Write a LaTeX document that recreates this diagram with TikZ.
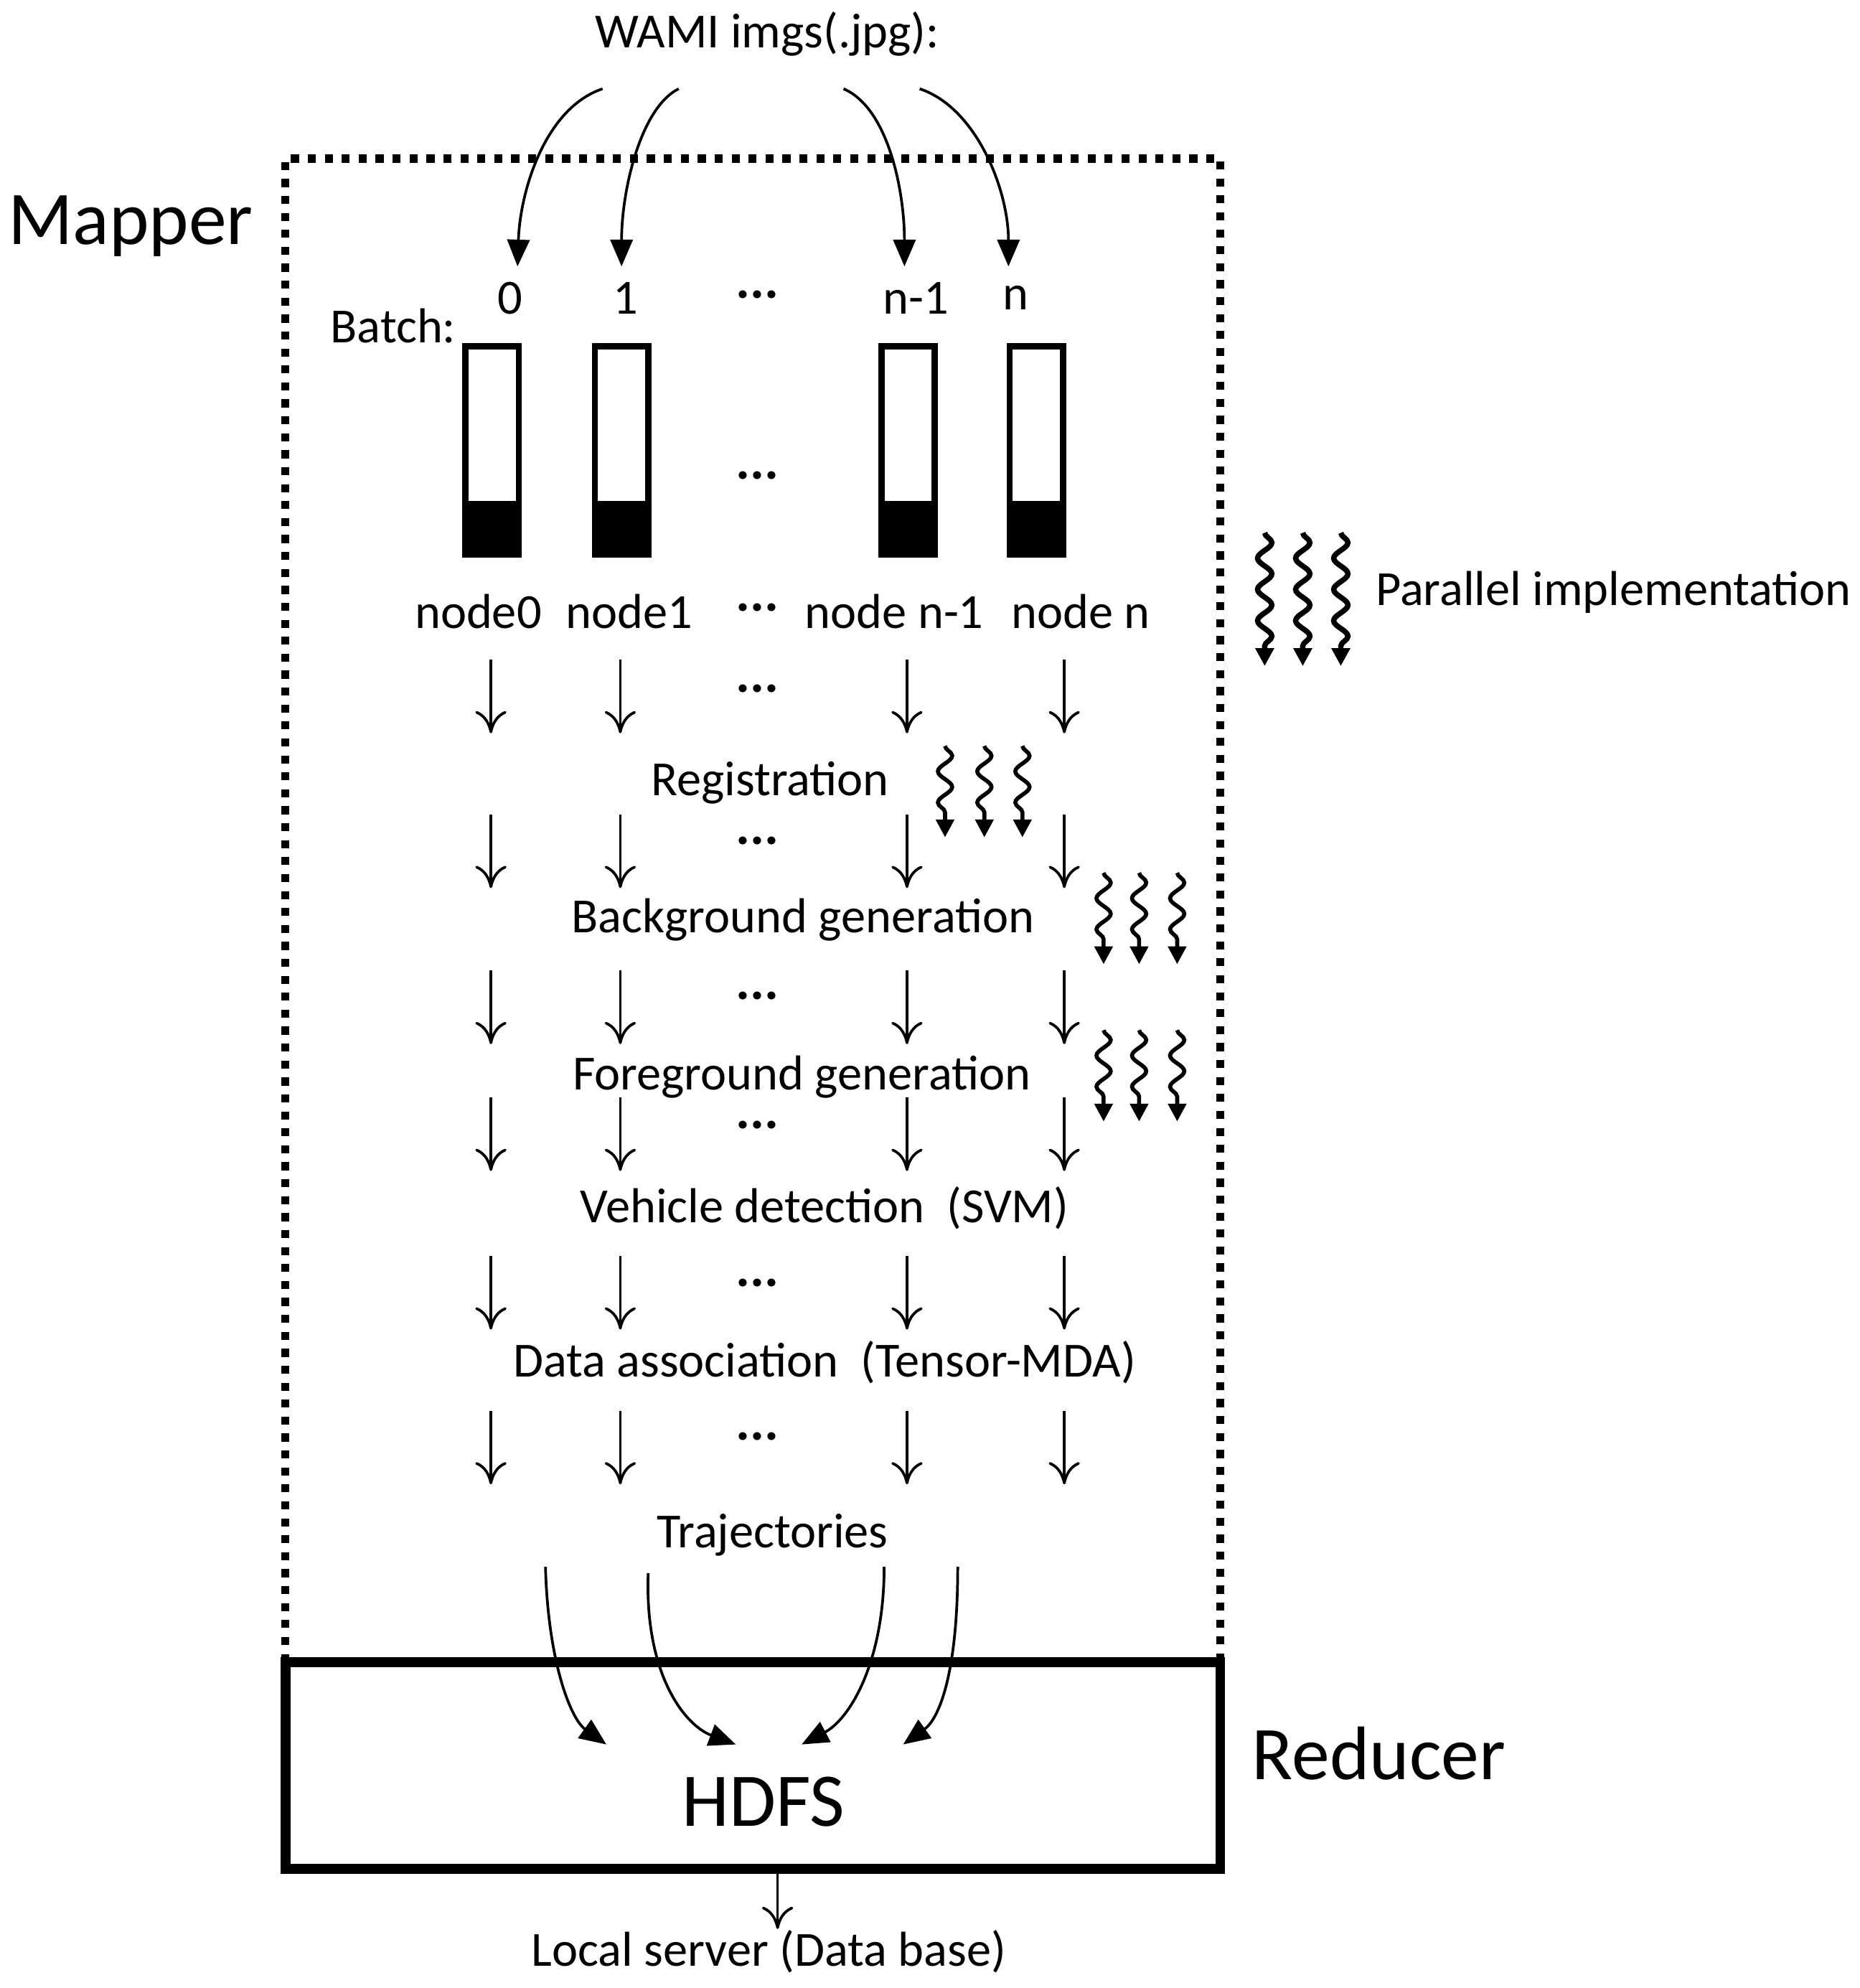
\documentclass[tikz,border=0pt]{standalone}
\usepackage{fontspec}
\setmainfont{Carlito}
\usetikzlibrary{decorations.pathmorphing,arrows.meta}
\begin{document}
\begin{tikzpicture}[x={(0.01cm,0)},y={(0,-0.01cm)},
  txt/.style={font=\fontsize{11pt}{13pt}\selectfont,inner sep=0},
  dots/.style={font=\fontsize{12pt}{13pt}\selectfont\bfseries,inner sep=0},
  big/.style={font=\fontsize{17pt}{20pt}\selectfont,inner sep=0},
  dn/.style={-{To[length=5pt,width=7pt]},line width=0.6pt},
  cur/.style={-{Triangle[length=6pt,width=5pt]},line width=0.6pt},
  sq/.style={line width=1.2pt,-{Triangle[length=4pt,width=4pt]},decorate,decoration={snake,amplitude=1.6pt,segment length=7pt,post length=4pt}}]
\useasboundingbox (0,0) rectangle (1466,1567);
\draw[line width=1.8pt,dotted] (225,1310) -- (225,125) -- (962,125) -- (962,1310);
\draw[line width=2.2pt] (225,1310) rectangle (962,1473);
\node[txt] (wami) at (605,27) {WAMI imgs(.jpg):};
\node[big] (mapper) at (103,178) {Mapper};
\node[big] (reducer) at (1087,1382) {Reducer};
\node[big] (hdfs) at (602,1420) {HDFS};
\node[txt] (local) at (606,1538) {Local server (Data base)};
\node[txt] (batch) at (310,257) {Batch:};
\foreach \x/\l/\n in {402/0/b0,493/1/b1,722/n-1/b2,801/n/b3}{\node[txt] (\n) at (\x,235) {\l};}
\node[dots] (bd) at (597,232) {...};
\foreach \x/\n in {388/c0,490/c1,716/c2,817/c3}{
  \fill (\x-22,395) rectangle (\x+22,438);
  \draw[line width=1.4pt] (\x-21,273) rectangle (\x+21,437);
  \coordinate (\n) at (\x,272);}
\node[dots] (cd) at (597,375) {...};
\coordinate (s0) at (475,70); \coordinate (s1) at (535,70);
\coordinate (s2) at (665,70); \coordinate (s3) at (725,70);
\coordinate (t0) at (408,210); \coordinate (t1) at (490,210);
\coordinate (t2) at (713,210); \coordinate (t3) at (795,210);
\draw[cur] (s0) .. controls (430,85) and (410,150) .. (t0);
\draw[cur] (s1) .. controls (505,85) and (490,150) .. (t1);
\draw[cur] (s2) .. controls (700,85) and (713,150) .. (t2);
\draw[cur] (s3) .. controls (770,85) and (795,150) .. (t3);
\node[txt] (n0) at (377,482) {node0};
\node[txt] (n1) at (496,482) {node1};
\node[dots] (nd) at (597,479) {...};
\node[txt] (n2) at (705,482) {node n-1};
\node[txt] (n3) at (852,482) {node n};
\node[txt] (par) at (1272,467) {Parallel implementation};
\foreach \x in {997,1027,1057}{\draw[sq] (\x,420) -- (\x,525);}
\foreach \ya/\yb in {520/578,642/700,765/823,865/923,990/1048,1112/1170}{
  \foreach \x in {387,489,715,839}{\draw[dn] (\x,\ya) -- (\x,\yb);}}
\foreach \y in {543,663,785,887,1011,1132}{\node[dots] at (597,\y) {...};}
\node[txt] (reg) at (607,617) {Registration};
\node[txt] (bg) at (633,725) {Background generation};
\node[txt] (fg) at (632,849) {Foreground generation};
\node[txt] (vd) at (650,952) {Vehicle detection\ \ (SVM)};
\node[txt] (da) at (650,1074) {Data association\ \ (Tensor-MDA)};
\node[txt] (traj) at (609,1210) {Trajectories};
\foreach \x in {745,776,806}{\draw[sq,line width=0.9pt] (\x,588) -- (\x,660);}
\foreach \x in {870,898,928}{\draw[sq,line width=0.9pt] (\x,688) -- (\x,760);
  \draw[sq,line width=0.9pt] (\x,812) -- (\x,884);}
\coordinate (u0) at (430,1235); \coordinate (u1) at (511,1240);
\coordinate (u2) at (697,1235); \coordinate (u3) at (755,1235);
\coordinate (v0) at (478,1375); \coordinate (v1) at (580,1375);
\coordinate (v2) at (632,1375); \coordinate (v3) at (712,1375);
\draw[cur] (u0) .. controls (432,1310) and (450,1355) .. (v0);
\draw[cur] (u1) .. controls (508,1320) and (540,1360) .. (v1);
\draw[cur] (u2) .. controls (697,1310) and (670,1355) .. (v2);
\draw[cur] (u3) .. controls (755,1320) and (740,1355) .. (v3);
\draw[dn] (613,1473) -- (local.north -| 613,0);
\end{tikzpicture}
\end{document}
